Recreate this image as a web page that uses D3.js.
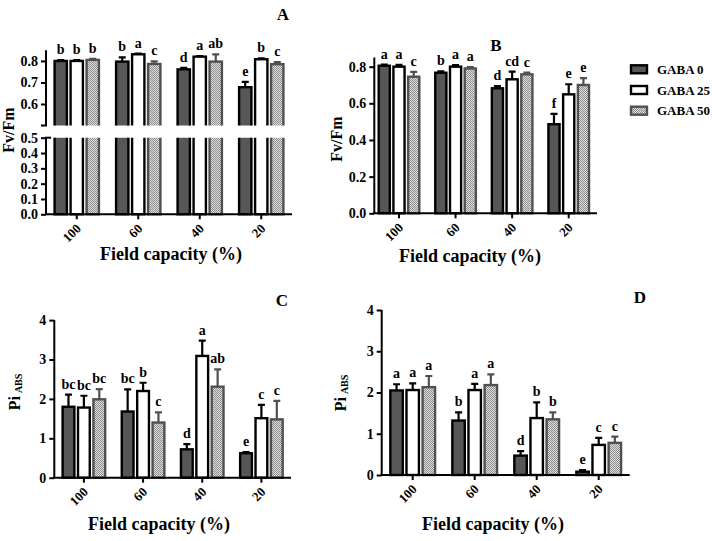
<!DOCTYPE html>
<html><head><meta charset="utf-8">
<script src="https://cdn.jsdelivr.net/npm/d3@7"></script>
<style>
body{margin:0;background:#fff;}
svg text{font-family:"Liberation Serif","Times New Roman",serif;font-weight:bold;fill:#000;}
</style></head>
<body><svg id="chart" width="712" height="541"></svg>
<script>
const categories = ["100","60","40","20"];
const series = ["GABA 0","GABA 25","GABA 50"];

const fvfmA = [[0.800,0.800,0.805],[0.797,0.831,0.786],[0.761,0.820,0.797],[0.678,0.808,0.785]];
const fvfmAErr = [[0.004,0.004,0.005],[0.020,0.003,0.012],[0.007,0.003,0.034],[0.025,0.004,0.010]];
const lettersA = [["b","b","b"],["b","a","c"],["d","a","ab"],["e","b","c"]];

const fvfmB = [[0.805,0.800,0.745],[0.767,0.800,0.790],[0.682,0.731,0.758],[0.486,0.649,0.700]];
const fvfmBErr = [[0.006,0.010,0.027],[0.008,0.008,0.008],[0.012,0.042,0.010],[0.056,0.055,0.038]];
const lettersB = [["a","a","c"],["b","a","a"],["d","cd","c"],["f","e","e"]];

const piC = [[1.80,1.78,1.99],[1.68,2.20,1.40],[0.72,3.09,2.31],[0.62,1.51,1.48]];
const piCErr = [[0.31,0.30,0.26],[0.56,0.21,0.26],[0.13,0.39,0.44],[0.03,0.34,0.47]];
const lettersC = [["bc","bc","bc"],["bc","b","c"],["d","a","ab"],["e","c","c"]];

const piD = [[2.05,2.06,2.13],[1.32,2.06,2.18],[0.47,1.38,1.35],[0.08,0.73,0.78]];
const piDErr = [[0.15,0.16,0.27],[0.20,0.15,0.26],[0.11,0.38,0.17],[0.04,0.17,0.15]];
const lettersD = [["a","a","a"],["b","a","a"],["d","b","b"],["e","c","c"]];

const fvTicksTop = [0.6,0.7,0.8];
const fvTicksBottom = [0,0.1,0.2,0.3,0.4,0.5];
const fvTicksB = [0,0.2,0.4,0.6,0.8];
const piTicks = [0,1,2,3,4];

const svg = d3.select("#chart");
const defs = svg.append("defs");
const pat = defs.append("pattern").attr("id","dots").attr("patternUnits","userSpaceOnUse")
  .attr("width",2).attr("height",2);
pat.append("rect").attr("width",2).attr("height",2).attr("fill","#e0e0e0");
pat.append("rect").attr("x",0).attr("y",0).attr("width",1).attr("height",1).attr("fill","#8c8c8c");
pat.append("rect").attr("x",1).attr("y",1).attr("width",1).attr("height",1).attr("fill","#8c8c8c");

const fills = ["#575757","#ffffff","url(#dots)"];
const strokes = ["#000","#000","#505050"];

let clipId = 0;
function drawPanel(cfg){
  const g = svg.append("g");
  const x = d3.scaleBand().domain(categories).range([cfg.bx0, cfg.bx1]).paddingInner(0.24).paddingOuter(0.12);
  const xs = d3.scaleBand().domain([0,1,2]).range([0, x.bandwidth()]).paddingInner(0.08);
  const axisY = cfg.segments[cfg.segments.length-1].range[0];

  cfg.segments.forEach((seg, si) => {
    const y = d3.scaleLinear().domain(seg.domain).range(seg.range);
    const isTop = si === 0;
    const isBottom = si === cfg.segments.length-1;
    const id = "clip" + (clipId++);
    const cy0 = isTop ? 0 : seg.range[1];
    const cy1 = seg.range[0] + (isBottom ? 3 : 0);
    defs.append("clipPath").attr("id", id).append("rect")
      .attr("x", cfg.ax0).attr("y", cy0).attr("width", cfg.ax1 - cfg.ax0 + 20).attr("height", cy1 - cy0);
    const bg = g.append("g").attr("clip-path", `url(#${id})`);
    categories.forEach((c, ci) => {
      series.forEach((s, k) => {
        const v = cfg.values[ci][k];
        const e = cfg.errs[ci][k];
        const bx = x(c) + xs(k);
        const bw = xs.bandwidth();
        const lo = seg.domain[0], hi = seg.domain[1];
        if (v <= lo) return;
        const yTop = v >= hi ? seg.range[1] - 10 : y(v);
        const yBot = isBottom ? y(lo) : seg.range[0] + 10;
        const inSeg = v > lo && v <= hi;
        if (inSeg) {
          const cx = bx + bw/2;
          bg.append("line").attr("x1",cx).attr("x2",cx).attr("y1",y(v)).attr("y2",y(v+e))
            .attr("stroke",strokes[k]).attr("stroke-width",2.2);
          bg.append("line").attr("x1",cx-3.5).attr("x2",cx+3.5).attr("y1",y(v+e)).attr("y2",y(v+e))
            .attr("stroke",strokes[k]).attr("stroke-width",2.2);
          g.append("text").attr("x",cx).attr("y",y(v+e)-6).attr("text-anchor","middle")
            .style("font-size","14px").text(cfg.letters[ci][k]);
        }
        bg.append("rect").attr("x",bx+1.2).attr("y",yTop).attr("width",bw-2.4).attr("height",Math.max(0,yBot-yTop))
          .attr("fill",fills[k]).attr("stroke",strokes[k]).attr("stroke-width",2.4);
      });
    });
    const ya = g.append("g").attr("transform",`translate(${cfg.ax0},0)`)
      .call(d3.axisLeft(y).tickValues(seg.ticks).tickSize(5).tickSizeOuter(0).tickPadding(3).tickFormat(cfg.fmt));
    ya.select(".domain").attr("stroke-width",2).attr("d",`M0,${seg.range[0]}V${seg.range[1]}`);
    ya.selectAll(".tick line").attr("stroke-width",2);
    ya.selectAll(".tick text").style("font-size","14px");
    if (cfg.segments.length > 1 && isTop) {
      g.append("line").attr("x1",cfg.ax0-5).attr("x2",cfg.ax0+1).attr("y1",seg.range[0]).attr("y2",seg.range[0])
        .attr("stroke","#000").attr("stroke-width",2);
    }
    if (cfg.segments.length > 1 && !isTop) {
      g.append("line").attr("x1",cfg.ax0-1).attr("x2",cfg.ax0+5).attr("y1",seg.range[1]).attr("y2",seg.range[1])
        .attr("stroke","#000").attr("stroke-width",2);
    }
  });

  const xa = g.append("g").attr("transform",`translate(0,${axisY})`)
    .call(d3.axisBottom(x).tickSize(5).tickSizeOuter(0));
  xa.select(".domain").attr("stroke-width",2).attr("d",`M${cfg.ax0-1},0H${cfg.ax1}`);
  xa.selectAll(".tick line").attr("stroke-width",2);
  xa.selectAll(".tick text").style("font-size","13px").attr("text-anchor","end")
    .attr("y",0).attr("dy",0).attr("transform","translate(5,15) rotate(-45)");

  g.append("text").attr("x",cfg.title[0]).attr("y",cfg.title[1]).attr("text-anchor","middle")
    .style("font-size","17px").text(cfg.titleText);
  g.append("text").attr("x",cfg.xt[0]).attr("y",cfg.xt[1]).attr("text-anchor","middle")
    .style("font-size","18px").text("Field capacity (%)");
  const yl = g.append("text").attr("transform",`translate(${cfg.yl[0]},${cfg.yl[1]}) rotate(-90)`)
    .attr("text-anchor","middle").style("font-size","16px");
  if (cfg.pi) {
    yl.append("tspan").text("Pi");
    yl.append("tspan").attr("dx",3).style("font-size","10px").attr("dy",2).text("ABS");
  } else {
    yl.text("Fv/Fm");
  }
}

drawPanel({values:fvfmA, errs:fvfmAErr, letters:lettersA, bx0:46, bx1:292, ax0:46, ax1:292,
  segments:[{domain:[0.5,0.85],range:[125.5,50.2],ticks:fvTicksTop},{domain:[0,0.5],range:[214.3,137.7],ticks:fvTicksBottom}],
  fmt:d3.format(".1f"), title:[283,20], titleText:"A", xt:[171,260], yl:[14,130]});

drawPanel({values:fvfmB, errs:fvfmBErr, letters:lettersB, bx0:370.7, bx1:597, ax0:374.3, ax1:597,
  segments:[{domain:[0,0.85],range:[213.3,57.5],ticks:fvTicksB}],
  fmt:d3.format(".1f"), title:[496,51], titleText:"B", xt:[470,262], yl:[342,139]});

drawPanel({values:piC, errs:piCErr, letters:lettersC, bx0:54.3, bx1:291, ax0:54.3, ax1:291,
  segments:[{domain:[0,4],range:[477.7,320.1],ticks:piTicks}],
  fmt:d3.format("d"), title:[282,306], titleText:"C", xt:[159,530], yl:[20,392], pi:true});

drawPanel({values:piD, errs:piDErr, letters:lettersD, bx0:381.7, bx1:629.7, ax0:381.7, ax1:629.7,
  segments:[{domain:[0,4],range:[475,310],ticks:piTicks}],
  fmt:d3.format("d"), title:[640,303], titleText:"D", xt:[493,530], yl:[346,393], pi:true});

const lg = svg.append("g");
series.forEach((s,k) => {
  const cy = 69.3 + k*20.7;
  lg.append("rect").attr("x",631).attr("y",cy-4).attr("width",16).attr("height",8)
    .attr("fill",fills[k]).attr("stroke",strokes[k]).attr("stroke-width",2.4);
  lg.append("text").attr("x",657).attr("y",cy+4.5).style("font-size","13px").text(s);
});
</script></body></html>
